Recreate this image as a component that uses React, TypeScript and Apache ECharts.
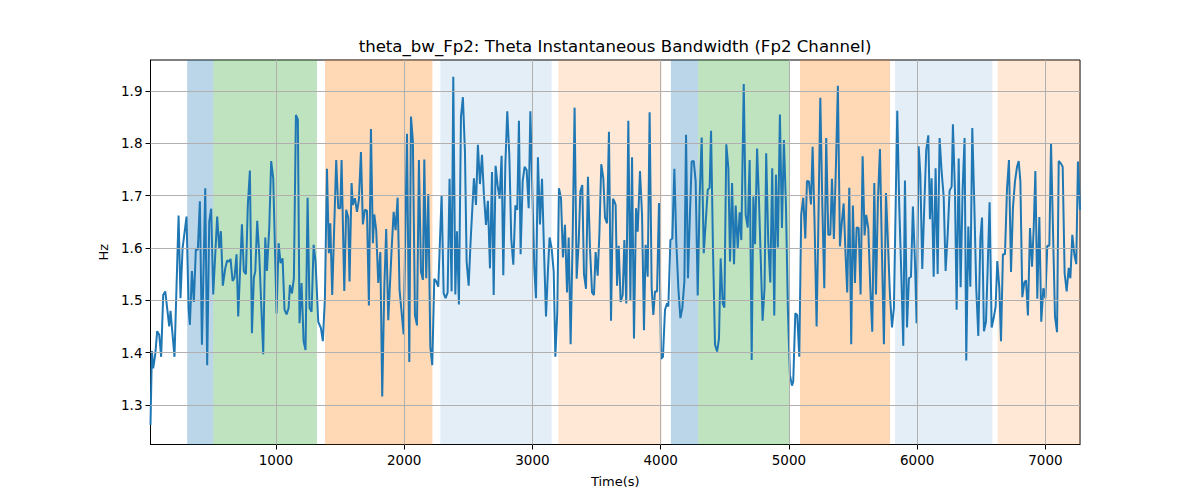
import React, { useEffect, useRef } from "react";
import * as echarts from "echarts";

const times: number[] = [
  22, 33, 43, 59, 74, 90, 105, 121, 137, 168, 178, 209, 241, 256, 272, 303, 319, 329, 345, 360,
  376, 391, 407, 423, 449, 464, 480, 495, 511, 542, 558, 571, 586, 605, 620, 636, 646, 662, 677, 693,
  706, 735, 750, 766, 781, 797, 813, 828, 839, 854, 870, 901, 917, 930, 948, 963, 979, 1005, 1021, 1036,
  1052, 1067, 1083, 1099, 1109, 1125, 1140, 1156, 1171,
  1184, 1200, 1216, 1231, 1247, 1262, 1278, 1294, 1309, 1330, 1351, 1366, 1382, 1398, 1413, 1424, 1439, 1470, 1486, 1502,
  1512, 1533, 1548, 1564, 1574, 1590, 1600, 1616, 1632, 1647, 1663, 1678, 1694, 1710, 1725, 1741, 1756, 1767, 1782, 1798,
  1814, 1829, 1845, 1860, 1876, 1902, 1918, 1933, 1949, 1964, 1996, 2022, 2040, 2053, 2068, 2084, 2100, 2115, 2131, 2146,
  2157, 2172, 2188, 2204, 2219, 2235, 2250, 2266, 2292, 2308, 2323, 2339, 2354,
  2370, 2383, 2399, 2412, 2427, 2443, 2458, 2474, 2487, 2503, 2518, 2544, 2560, 2575, 2591, 2607, 2622, 2638, 2653, 2669,
  2685, 2698, 2713, 2729, 2744, 2760, 2773, 2789, 2804, 2820, 2835, 2851, 2867, 2882, 2895, 2908, 2924, 2939, 2955, 2971,
  2984, 2999, 3015, 3028, 3043, 3059, 3075, 3090, 3106, 3121, 3134, 3150, 3166, 3179, 3194, 3207, 3223, 3238, 3254, 3270,
  3283, 3298, 3314, 3329, 3345, 3361, 3374, 3389, 3402, 3418, 3433, 3449, 3465, 3480, 3493, 3509, 3522, 3537, 3553, 3566,
  3582,
  3597, 3613, 3628, 3639, 3649, 3660, 3673, 3688, 3704, 3717, 3732, 3748, 3764, 3777, 3792, 3808, 3821, 3839, 3855, 3870,
  3883, 3899, 3914, 3930, 3943, 3956, 3972, 3987, 4003, 4018, 4034, 4050, 4060, 4076, 4091, 4107, 4122, 4138, 4154, 4169,
  4185, 4198, 4213, 4229, 4242, 4258, 4273, 4289, 4304, 4320, 4336, 4351, 4367, 4382, 4393, 4408, 4424, 4440, 4455, 4468,
  4484, 4497, 4512, 4528, 4541, 4557, 4572, 4585, 4601, 4616, 4629, 4648, 4663, 4679, 4694, 4710, 4723, 4736, 4752, 4767,
  4795, 4810, 4823, 4839, 4855, 4870, 4886, 4899, 4914, 4930, 4946, 4961, 4977, 4992, 5008, 5024, 5034, 5050, 5065, 5081,
  5096, 5112, 5128, 5141, 5156, 5172, 5185, 5200, 5216, 5229, 5245, 5260, 5276, 5291, 5307, 5323, 5336, 5351, 5367, 5382,
  5398, 5411, 5427, 5442, 5455, 5471, 5486, 5499, 5515, 5528, 5544, 5559, 5575, 5590, 5603, 5619, 5635, 5650, 5666, 5679,
  5694, 5710, 5726, 5741, 5757, 5772, 5788, 5804, 5819, 5845, 5861, 5876, 5892, 5905, 5921, 5936, 5952, 5967, 5983, 5996,
  6012,
  6025, 6040, 6056, 6071, 6087, 6100, 6113, 6129, 6144, 6160, 6175, 6191, 6207, 6222, 6238, 6253, 6269, 6279, 6295, 6308,
  6324, 6339, 6355, 6370, 6383, 6399, 6415, 6430, 6446, 6461, 6477, 6493, 6506, 6521, 6537, 6550, 6565, 6581, 6597, 6612,
  6625, 6641, 6654, 6669, 6685, 6701, 6716, 6732, 6747, 6763, 6779, 6792, 6805, 6820, 6836, 6849, 6864, 6880, 6896, 6909,
  6922, 6937, 6953, 6968, 6984, 7000, 7015, 7031, 7044, 7059, 7075, 7091, 7104, 7119, 7135, 7150, 7166, 7182, 7195, 7210,
  7226, 7241, 7254, 7270,
];

const bandwidth: number[] = [
  1.262, 1.403, 1.370, 1.396, 1.441, 1.434, 1.392, 1.510, 1.517, 1.450, 1.480, 1.392, 1.662, 1.504, 1.599, 1.660, 1.485, 1.453, 1.556, 1.497,
  1.599, 1.596, 1.689, 1.415, 1.714, 1.376, 1.650, 1.675, 1.511, 1.660, 1.599, 1.632, 1.528, 1.561, 1.576, 1.574, 1.579, 1.537, 1.543, 1.588,
  1.469, 1.645, 1.555, 1.550, 1.682, 1.748, 1.437, 1.543, 1.555, 1.652, 1.587, 1.397, 1.620, 1.556, 1.638, 1.766, 1.733, 1.475, 1.609, 1.571,
  1.580, 1.482, 1.473, 1.485, 1.529, 1.513, 1.542, 1.854, 1.845,
  1.456, 1.533, 1.421, 1.405, 1.696, 1.485, 1.478, 1.606, 1.574, 1.459, 1.447, 1.422, 1.504, 1.751, 1.590, 1.647, 1.510, 1.768, 1.676, 1.676,
  1.768, 1.518, 1.673, 1.658, 1.536, 1.724, 1.682, 1.695, 1.669, 1.692, 1.783, 1.645, 1.673, 1.671, 1.490, 1.827, 1.609, 1.664, 1.634, 1.533,
  1.592, 1.316, 1.523, 1.636, 1.462, 1.596, 1.669, 1.634, 1.696, 1.520, 1.435, 1.818, 1.382, 1.851, 1.804, 1.472, 1.452, 1.768, 1.555, 1.539,
  1.769, 1.542, 1.703, 1.411, 1.376, 1.541, 1.536, 1.526, 1.701, 1.513, 1.504, 1.515, 1.732,
  1.517, 1.927, 1.511, 1.632, 1.492, 1.851, 1.888, 1.784, 1.574, 1.528, 1.612, 1.733, 1.682, 1.797, 1.722, 1.778, 1.701, 1.644, 1.690, 1.561,
  1.745, 1.510, 1.757, 1.719, 1.694, 1.776, 1.548, 1.759, 1.861, 1.778, 1.618, 1.568, 1.681, 1.673, 1.843, 1.588, 1.727, 1.755, 1.749, 1.676,
  1.861, 1.714, 1.561, 1.504, 1.773, 1.645, 1.732, 1.599, 1.469, 1.556, 1.620, 1.599, 1.555, 1.392, 1.478, 1.714, 1.695, 1.582, 1.644, 1.515,
  1.620, 1.416, 1.622, 1.868, 1.541, 1.612, 1.708, 1.720, 1.550, 1.522, 1.736, 1.599, 1.515, 1.510, 1.592, 1.547, 1.625, 1.760, 1.733, 1.658,
  1.647,
  1.822, 1.461, 1.694, 1.689, 1.682, 1.528, 1.604, 1.497, 1.510, 1.615, 1.494, 1.843, 1.499, 1.773, 1.427, 1.676, 1.631, 1.747, 1.663, 1.443,
  1.606, 1.545, 1.859, 1.523, 1.472, 1.517, 1.517, 1.686, 1.388, 1.392, 1.482, 1.494, 1.488, 1.615, 1.618, 1.751, 1.612, 1.523, 1.466, 1.485,
  1.536, 1.816, 1.542, 1.669, 1.765, 1.766, 1.727, 1.509, 1.695, 1.811, 1.590, 1.647, 1.711, 1.715, 1.824, 1.599, 1.415, 1.402, 1.427, 1.580,
  1.494, 1.486, 1.798, 1.752, 1.574, 1.724, 1.569, 1.681, 1.599, 1.668, 1.615, 1.913, 1.663, 1.639, 1.768, 1.386, 1.698, 1.607, 1.790, 1.689,
  1.461, 1.523, 1.781, 1.612, 1.534, 1.752, 1.471, 1.740, 1.601, 1.855, 1.638, 1.806, 1.682, 1.485, 1.357, 1.337, 1.345, 1.475, 1.472, 1.392,
  1.663, 1.696, 1.618, 1.728, 1.727, 1.683, 1.793, 1.650, 1.450, 1.631, 1.887, 1.689, 1.523, 1.810, 1.625, 1.625, 1.732, 1.617, 1.759, 1.910,
  1.603, 1.644, 1.685, 1.587, 1.515, 1.715, 1.416, 1.681, 1.533, 1.639, 1.638, 1.511, 1.775, 1.624, 1.663, 1.638, 1.523, 1.440, 1.724, 1.511,
  1.689, 1.789, 1.587, 1.416, 1.705, 1.612, 1.510, 1.448, 1.485, 1.862, 1.676, 1.555, 1.413, 1.729, 1.448, 1.542, 1.545, 1.679, 1.574, 1.456,
  1.794,
  1.740, 1.560, 1.682, 1.787, 1.815, 1.655, 1.733, 1.545, 1.752, 1.550, 1.810, 1.746, 1.698, 1.556, 1.625, 1.709, 1.717, 1.836, 1.708, 1.482,
  1.771, 1.525, 1.714, 1.810, 1.385, 1.641, 1.526, 1.829, 1.682, 1.523, 1.432, 1.618, 1.658, 1.441, 1.459, 1.561, 1.687, 1.448, 1.466, 1.488,
  1.575, 1.523, 1.422, 1.588, 1.588, 1.714, 1.768, 1.554, 1.676, 1.727, 1.755, 1.766, 1.727, 1.506, 1.534, 1.538, 1.471, 1.638, 1.564, 1.638,
  1.747, 1.503, 1.659, 1.459, 1.523, 1.504, 1.604, 1.604, 1.800, 1.638, 1.469, 1.439, 1.766, 1.762, 1.755, 1.552, 1.517, 1.562, 1.542, 1.625,
  1.587, 1.569, 1.765, 1.673,
];

const spanStarts: number[] = [308, 511, 1383, 2282, 3202, 4080, 4293, 5087, 5828, 6628];
const spanEnds: number[] = [511, 1320, 2220, 3150, 4008, 4293, 5003, 5789, 6587, 7270];
const spanKinds: string[] = [
  "blue", "green", "orange", "lightblue", "lightorange",
  "blue", "green", "orange", "lightblue", "lightorange",
];

const xTicks: number[] = [1000, 2000, 3000, 4000, 5000, 6000, 7000];
const yTicks: number[] = [1.3, 1.4, 1.5, 1.6, 1.7, 1.8, 1.9];

const X_MIN = 22;
const X_MAX = 7270;
const Y_MIN = 1.2245;
const Y_MAX = 1.959;

const TITLE = "theta_bw_Fp2: Theta Instantaneous Bandwidth (Fp2 Channel)";

const kindColor: Record<string, string> = {
  blue: "rgba(31,119,180,0.3)",
  green: "rgba(44,160,44,0.3)",
  orange: "rgba(255,127,14,0.3)",
  lightblue: "rgba(31,119,180,0.12)",
  lightorange: "rgba(255,127,14,0.17)",
};

const FONT = "DejaVu Sans";

export default function App() {
  const ref = useRef<HTMLDivElement>(null);

  useEffect(() => {
    if (!ref.current) return;
    const chart = echarts.init(ref.current, undefined, { renderer: "svg" });
    const lineData = times.map((t, i) => [t, bandwidth[i]]);
    const areas = spanStarts.map((s, i) => [
      { xAxis: s, itemStyle: { color: kindColor[spanKinds[i]] } },
      { xAxis: spanEnds[i] },
    ]);
    const gridLines = [
      ...xTicks.map((v) => ({ xAxis: v })),
      ...yTicks.map((v) => ({ yAxis: v })),
    ];

    chart.setOption({
      animation: false,
      textStyle: { fontFamily: FONT },
      grid: {
        left: 150.5,
        right: 120,
        top: 60,
        bottom: 55.5,
        show: true,
        borderColor: "#000",
        borderWidth: 1,
        backgroundColor: "transparent",
      },
      xAxis: {
        type: "value",
        min: X_MIN,
        max: X_MAX,
        name: "Time(s)",
        nameLocation: "middle",
        nameGap: 30,
        nameTextStyle: { fontSize: 13, color: "#000", fontFamily: FONT },
        axisLine: { show: true, lineStyle: { color: "#000", width: 1 } },
        axisTick: { show: true, length: 5, lineStyle: { color: "#000" }, customValues: xTicks },
        axisLabel: {
          color: "#000",
          fontSize: 13.5,
          margin: 8,
          fontFamily: FONT,
          customValues: xTicks,
          formatter: (v: number) => String(Math.round(v)),
        },
        splitLine: { show: false },
      },
      yAxis: {
        type: "value",
        min: Y_MIN,
        max: Y_MAX,
        name: "Hz",
        nameLocation: "middle",
        nameGap: 41,
        nameRotate: 90,
        nameTextStyle: { fontSize: 13, color: "#000", fontFamily: FONT },
        axisLine: { show: true, lineStyle: { color: "#000", width: 1 } },
        axisTick: { show: true, length: 5, lineStyle: { color: "#000" }, customValues: yTicks },
        axisLabel: {
          color: "#000",
          fontSize: 13.5,
          margin: 8,
          fontFamily: FONT,
          customValues: yTicks,
          formatter: (v: number) => v.toFixed(1),
        },
        splitLine: { show: false },
      },
      graphic: [
        {
          type: "text",
          x: 615,
          y: 46,
          style: {
            text: TITLE,
            fill: "#000",
            font: `16.6px "${FONT}"`,
            textAlign: "center",
            textVerticalAlign: "middle",
          },
        },
      ],
      series: [
        {
          type: "line",
          data: [],
          z: 1,
          silent: true,
          markArea: { silent: true, data: areas },
        },
        {
          type: "line",
          data: [],
          z: 2,
          silent: true,
          markLine: {
            silent: true,
            symbol: ["none", "none"],
            label: { show: false },
            lineStyle: { color: "#b0b0b0", width: 1, type: "solid" },
            data: gridLines,
          },
        },
        {
          type: "line",
          data: lineData,
          z: 3,
          showSymbol: false,
          symbol: "none",
          lineStyle: { color: "#1f77b4", width: 2 },
        },
      ],
    });

    return () => chart.dispose();
  }, []);

  return (
    <div
      ref={ref}
      style={{ position: "fixed", left: 0, top: 0, width: 1200, height: 500, background: "#fff" }}
    />
  );
}
